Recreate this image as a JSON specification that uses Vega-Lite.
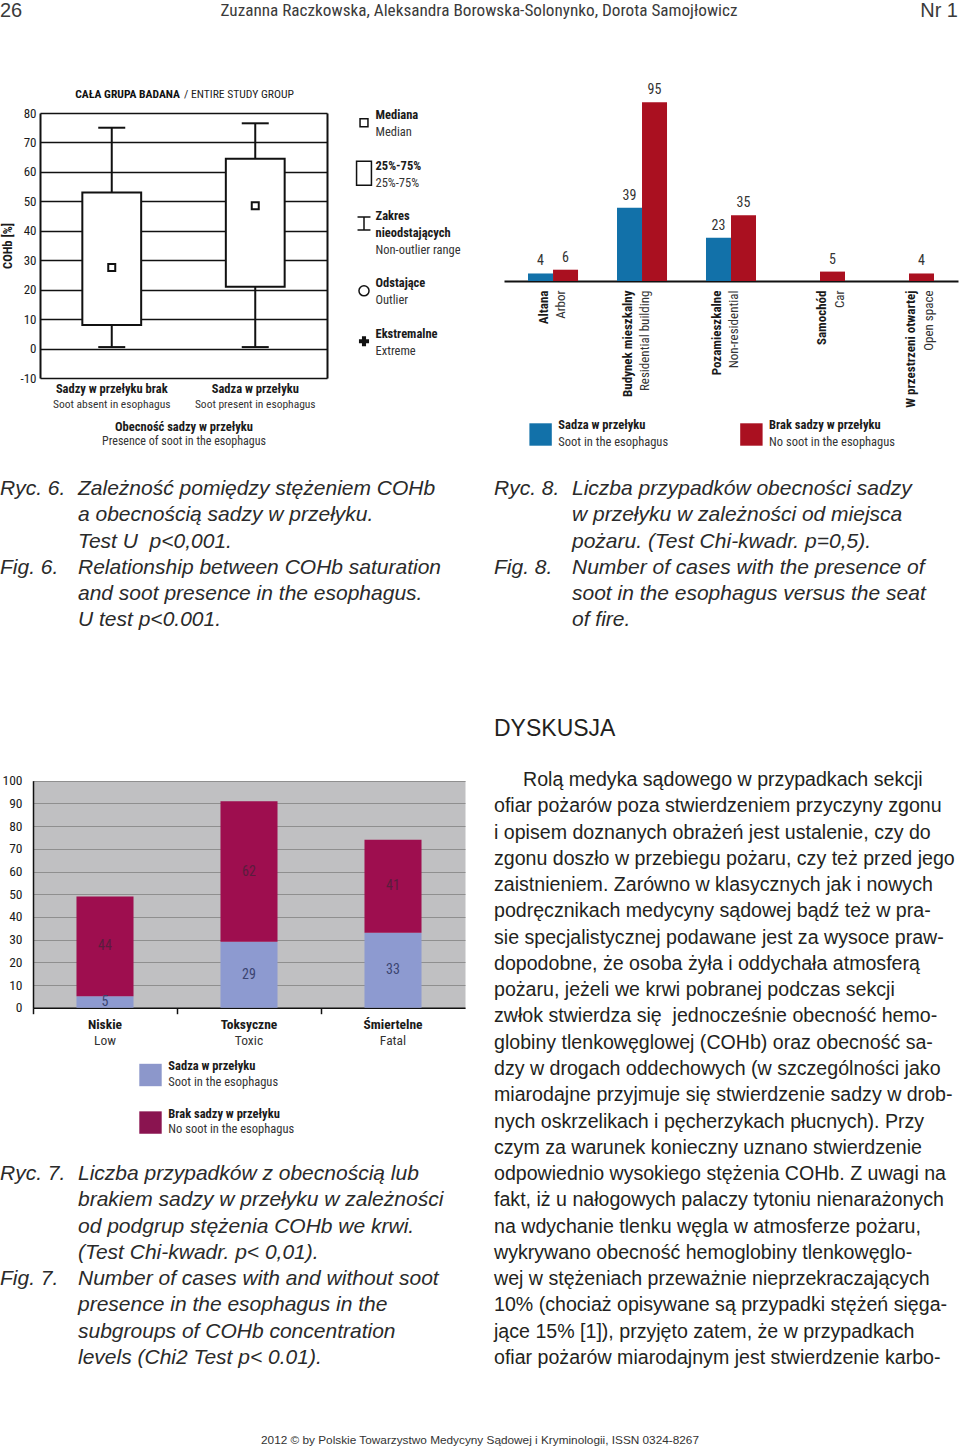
{
"$schema":"https://vega.github.io/schema/vega-lite/v6.json",
"width":960,"height":1450,
"padding":0,
"autosize":{"type":"none"},
"background":"white",
"config":{
 "view":{"stroke":null},
 "font":"Liberation Sans, Arial, sans-serif",
 "axis":{"labelFont":"Roboto Condensed, Roboto, sans-serif","titleFont":"Roboto Condensed, Roboto, sans-serif","labelColor":"#1a1a1a","titleColor":"#1a1a1a","labelFontSize":12.5,"titleFontSize":12.5,"labelOverlap":false,"labelLimit":400,"minExtent":0}
},
"resolve":{"scale":{"x":"independent","y":"independent","color":"independent","shape":"independent"},"axis":{"x":"independent","y":"independent"}},
"layer":[
{"data":{"values":[{"slot":"l","line":0,"text":"26"},{"slot":"c","line":0,"text":"Zuzanna Raczkowska, Aleksandra Borowska-Solonynko, Dorota Samojłowicz"},{"slot":"r","line":0,"text":"Nr 1"}]},
 "encoding":{
  "x":{"field":"slot","type":"nominal","scale":{"type":"point","domain":["l","c","r"],"range":[0,958],"padding":0},"axis":null},
  "y":{"field":"line","type":"quantitative","scale":{"domain":[0,1],"range":[17,43],"nice":false,"zero":false},"axis":null},
  "text":{"field":"text"}},
 "layer":[
  {"transform":[{"filter":"datum.slot=='l'"}],"mark":{"type":"text","align":"left","baseline":"alphabetic","fontSize":20,"color":"#3a3a3a"}},
  {"transform":[{"filter":"datum.slot=='c'"}],"mark":{"type":"text","align":"center","baseline":"alphabetic","dy":-1,"font":"Roboto Condensed, Roboto, sans-serif","fontSize":17.2,"color":"#3a3a3a"}},
  {"transform":[{"filter":"datum.slot=='r'"}],"mark":{"type":"text","align":"right","baseline":"alphabetic","fontSize":20,"color":"#3a3a3a"}}
 ]},

{"data":{"values":[
  {"g":"Sadzy w przełyku brak","lo":0.5,"q1":8,"med":27.5,"q3":53,"hi":75},
  {"g":"Sadza w przełyku","lo":0.5,"q1":21,"med":48.5,"q3":64.5,"hi":76.5}]},
 "layer":[
  {"mark":{"type":"rule","color":"#111","strokeWidth":2},
   "encoding":{
    "x":{"field":"g","type":"nominal","sort":null,"scale":{"domain":["Sadzy w przełyku brak","Sadza w przełyku"],"range":[40,327],"paddingInner":0,"paddingOuter":0},
         "axis":{"orient":"bottom","offset":-1072,"title":"Obecność sadzy w przełyku","labelAngle":0,"labelFontWeight":"bold","titleFontWeight":"bold","domain":false,"ticks":false,"tickSize":0,"grid":false,"labelPadding":4,"titlePadding":26}},
    "y":{"field":"lo","type":"quantitative","scale":{"domain":[-10,80],"range":[378,113],"nice":false,"zero":false},
         "axis":{"orient":"left","offset":-40,"title":"COHb [%]","titleFontWeight":"bold","values":[-10,0,10,20,30,40,50,60,70,80],"labelExpr":"datum.value","labelFontSize":13,"grid":true,"gridColor":"#111","gridWidth":1.5,"domain":true,"domainColor":"#111","domainWidth":2,"ticks":false,"tickSize":0,"labelPadding":4,"titlePadding":5}},
    "y2":{"field":"hi"}}},
  {"mark":{"type":"tick","color":"#111","size":27,"thickness":2,"opacity":1},
   "encoding":{
    "x":{"field":"g","type":"nominal","sort":null,"scale":{"domain":["Sadzy w przełyku brak","Sadza w przełyku"],"range":[40,327],"paddingInner":0,"paddingOuter":0},"axis":null},
    "y":{"field":"lo","type":"quantitative","scale":{"domain":[-10,80],"range":[378,113],"nice":false,"zero":false},"axis":null}}},
  {"mark":{"type":"tick","color":"#111","size":27,"thickness":2,"opacity":1},
   "encoding":{
    "x":{"field":"g","type":"nominal","sort":null,"scale":{"domain":["Sadzy w przełyku brak","Sadza w przełyku"],"range":[40,327],"paddingInner":0,"paddingOuter":0},"axis":null},
    "y":{"field":"hi","type":"quantitative","scale":{"domain":[-10,80],"range":[378,113],"nice":false,"zero":false},"axis":null}}},
  {"mark":{"type":"bar","fill":"white","stroke":"#111","strokeWidth":2,"opacity":1,"width":{"band":0.41}},
   "encoding":{
    "x":{"field":"g","type":"nominal","sort":null,"scale":{"domain":["Sadzy w przełyku brak","Sadza w przełyku"],"range":[40,327],"paddingInner":0,"paddingOuter":0},
         "axis":{"orient":"bottom","offset":-1072,"title":"Presence of soot in the esophagus","labelAngle":0,"labelExpr":"datum.value == 'Sadza w przełyku' ? 'Soot present in esophagus' : 'Soot absent in esophagus'","labelFontSize":11.5,"titleFontSize":12,"titleFontWeight":"normal","labelFontWeight":"normal","labelColor":"#333","titleColor":"#333","domain":false,"ticks":false,"tickSize":0,"grid":false,"labelPadding":20,"titlePadding":26}},
    "y":{"field":"q1","type":"quantitative","scale":{"domain":[-10,80],"range":[378,113],"nice":false,"zero":false},"axis":null},
    "y2":{"field":"q3"}}},
  {"mark":{"type":"point","shape":"square","size":49,"filled":true,"fill":"white","stroke":"#111","strokeWidth":2,"opacity":1},
   "encoding":{
    "x":{"field":"g","type":"nominal","sort":null,"scale":{"domain":["Sadzy w przełyku brak","Sadza w przełyku"],"range":[40,327],"paddingInner":0,"paddingOuter":0},"axis":null},
    "y":{"field":"med","type":"quantitative","scale":{"domain":[-10,80],"range":[378,113],"nice":false,"zero":false},
         "axis":{"orient":"right","offset":-633,"title":null,"labels":false,"grid":false,"domain":true,"domainColor":"#111","domainWidth":2,"ticks":false,"tickSize":0}}}}
 ],
 "resolve":{"axis":{"x":"independent","y":"independent"}}},

{"data":{"values":[{"part":"pl","line":0,"text":"CAŁA GRUPA BADANA"},{"part":"en","line":0,"text":"/ ENTIRE STUDY GROUP"}]},
 "encoding":{
  "x":{"field":"part","type":"nominal","scale":{"type":"point","domain":["pl","en"],"range":[180,184],"padding":0},"axis":null},
  "y":{"field":"line","type":"quantitative","scale":{"domain":[0,1],"range":[97.5,114],"nice":false,"zero":false},"axis":null},
  "text":{"field":"text"}},
 "layer":[
  {"transform":[{"filter":"datum.part=='pl'"}],"mark":{"type":"text","align":"right","baseline":"alphabetic","font":"Roboto Condensed, Roboto, sans-serif","fontSize":11.6,"fontWeight":"bold","color":"#111"}},
  {"transform":[{"filter":"datum.part=='en'"}],"mark":{"type":"text","align":"left","baseline":"alphabetic","font":"Roboto Condensed, Roboto, sans-serif","fontSize":11.6,"color":"#222"}}
 ]},

{"data":{"values":[
  {"col":"sym","sym":"median","line":0},
  {"col":"sym","sym":"box","line":3},
  {"col":"sym","sym":"range","line":6},
  {"col":"sym","sym":"outlier","line":10},
  {"col":"sym","sym":"extreme","line":13},
  {"col":"text","kind":"b","line":0,"text":"Mediana"},
  {"col":"text","kind":"n","line":1,"text":"Median"},
  {"col":"text","kind":"b","line":3,"text":"25%-75%"},
  {"col":"text","kind":"n","line":4,"text":"25%-75%"},
  {"col":"text","kind":"b","line":6,"text":"Zakres"},
  {"col":"text","kind":"b","line":7,"text":"nieodstających"},
  {"col":"text","kind":"n","line":8,"text":"Non-outlier range"},
  {"col":"text","kind":"b","line":10,"text":"Odstające"},
  {"col":"text","kind":"n","line":11,"text":"Outlier"},
  {"col":"text","kind":"b","line":13,"text":"Ekstremalne"},
  {"col":"text","kind":"n","line":14,"text":"Extreme"}]},
 "encoding":{
  "x":{"field":"col","type":"nominal","scale":{"type":"point","domain":["sym","text"],"range":[364,375.5],"padding":0},"axis":null},
  "y":{"field":"line","type":"quantitative","scale":{"domain":[0,1],"range":[119.3,136.1],"nice":false,"zero":false},"axis":null}},
 "layer":[
  {"transform":[{"filter":"datum.col=='sym' && datum.sym!='extreme'"}],
   "mark":{"type":"point","filled":false,"stroke":"#111","strokeWidth":1.5,"size":576,"opacity":1,"yOffset":3.5},
   "encoding":{"shape":{"field":"sym","type":"nominal","scale":{"domain":["median","box","range","outlier"],"range":["M-0.33,-0.33H0.33V0.33H-0.33Z","M-0.62,-1H0.62V1H-0.62Z","M-0.54,-0.54H0.54M0,-0.54V0.54M-0.54,0.54H0.54","M0.42,0A0.42,0.42,0,1,1,-0.42,0A0.42,0.42,0,1,1,0.42,0Z"]},"legend":null}}},
  {"transform":[{"filter":"datum.sym=='extreme'"}],
   "mark":{"type":"point","filled":true,"color":"#111","size":576,"opacity":1,"yOffset":3.5,"shape":"M-0.17,-0.42H0.17V-0.17H0.42V0.17H0.17V0.42H-0.17V0.17H-0.42V-0.17H-0.17Z"}},
  {"transform":[{"filter":"datum.kind=='b'"}],"mark":{"type":"text","align":"left","baseline":"alphabetic","font":"Roboto Condensed, Roboto, sans-serif","fontSize":12.5,"fontWeight":"bold","color":"#1a1a1a"},"encoding":{"text":{"field":"text"}}},
  {"transform":[{"filter":"datum.kind=='n'"}],"mark":{"type":"text","align":"left","baseline":"alphabetic","font":"Roboto Condensed, Roboto, sans-serif","fontSize":12.5,"color":"#333"},"encoding":{"text":{"field":"text"}}}
 ]},

{"data":{"values":[
  {"place":"Altana","series":"soot","n":4},{"place":"Altana","series":"nosoot","n":6},
  {"place":"Budynek mieszkalny","series":"soot","n":39},{"place":"Budynek mieszkalny","series":"nosoot","n":95},
  {"place":"Pozamieszkalne","series":"soot","n":23},{"place":"Pozamieszkalne","series":"nosoot","n":35},
  {"place":"Samochód","series":"nosoot","n":5},
  {"place":"W przestrzeni otwartej","series":"nosoot","n":4}]},
 "layer":[
  {"mark":{"type":"bar","opacity":1},
   "encoding":{
    "x":{"field":"place","type":"nominal","sort":null,"scale":{"domain":["Altana","Budynek mieszkalny","Pozamieszkalne","Samochód","W przestrzeni otwartej"],"range":[504,958],"paddingInner":0.438,"paddingOuter":0.27},
         "axis":{"orient":"bottom","offset":-1169,"title":null,"labelAngle":270,"labelFontWeight":"bold","labelFontSize":13,"labelPadding":9,
                 "labelOffset":{"condition":[{"test":"datum.value=='Samochód'||datum.value=='W przestrzeni otwartej'","value":2},{"test":"datum.value=='Altana'","value":-9}],"value":-14},
                 "domain":true,"domainColor":"#111","domainWidth":2,"ticks":false,"tickSize":0,"grid":false}},
    "xOffset":{"field":"series","type":"nominal","scale":{"domain":["soot","nosoot"],"paddingInner":0,"paddingOuter":0}},
    "y":{"field":"n","type":"quantitative","scale":{"domain":[0,95],"range":[281,102.3],"nice":false,"zero":false},"axis":null},
    "color":{"field":"series","type":"nominal","scale":{"domain":["soot","nosoot"],"range":["#1271a9","#aa1020"]},"legend":null}}},
  {"mark":{"type":"text","baseline":"bottom","dy":-5,"font":"Roboto Condensed, Roboto, sans-serif","fontSize":14,"color":"#333"},
   "encoding":{
    "x":{"field":"place","type":"nominal","sort":null,"scale":{"domain":["Altana","Budynek mieszkalny","Pozamieszkalne","Samochód","W przestrzeni otwartej"],"range":[504,958],"paddingInner":0.438,"paddingOuter":0.27},
         "axis":{"orient":"bottom","offset":-1169,"title":null,"labelAngle":270,"labelFontSize":13,"labelColor":"#333","labelPadding":9,
                 "labelOffset":{"condition":[{"test":"datum.value=='Samochód'||datum.value=='W przestrzeni otwartej'","value":20},{"test":"datum.value=='Altana'","value":8}],"value":3},
                 "labelExpr":"datum.value=='Altana'?'Arbor':datum.value=='Budynek mieszkalny'?'Residential building':datum.value=='Pozamieszkalne'?'Non-residential':datum.value=='Samochód'?'Car':'Open space'",
                 "domain":false,"ticks":false,"tickSize":0,"grid":false}},
    "xOffset":{"field":"series","type":"nominal","scale":{"domain":["soot","nosoot"],"paddingInner":0,"paddingOuter":0}},
    "y":{"field":"n","type":"quantitative","scale":{"domain":[0,95],"range":[281,102.3],"nice":false,"zero":false},"axis":null},
    "text":{"field":"n","type":"quantitative"}}}
 ],
 "resolve":{"axis":{"x":"independent"}}},

{"data":{"values":[
  {"kind":"sw","item":"soot","line":0},{"kind":"sw","item":"nosoot","line":0},
  {"kind":"b","item":"soot","line":0,"text":"Sadza w przełyku"},
  {"kind":"n","item":"soot","line":1,"text":"Soot in the esophagus"},
  {"kind":"b","item":"nosoot","line":0,"text":"Brak sadzy w przełyku"},
  {"kind":"n","item":"nosoot","line":1,"text":"No soot in the esophagus"}]},
 "encoding":{
  "x":{"field":"item","type":"nominal","scale":{"type":"point","domain":["soot","nosoot"],"range":[540.6,751.4],"padding":0},"axis":null},
  "y":{"field":"line","type":"quantitative","scale":{"domain":[0,1],"range":[429.3,445.5],"nice":false,"zero":false},"axis":null}},
 "layer":[
  {"transform":[{"filter":"datum.kind=='sw' && datum.item=='soot'"}],"mark":{"type":"point","shape":"square","size":502,"filled":true,"color":"#1271a9","opacity":1,"yOffset":5.2}},
  {"transform":[{"filter":"datum.kind=='sw' && datum.item=='nosoot'"}],"mark":{"type":"point","shape":"square","size":502,"filled":true,"color":"#aa1020","opacity":1,"yOffset":5.2}},
  {"transform":[{"filter":"datum.kind=='b'"}],"mark":{"type":"text","align":"left","baseline":"alphabetic","dx":17.7,"font":"Roboto Condensed, Roboto, sans-serif","fontSize":12.5,"fontWeight":"bold","color":"#1a1a1a"},"encoding":{"text":{"field":"text"}}},
  {"transform":[{"filter":"datum.kind=='n'"}],"mark":{"type":"text","align":"left","baseline":"alphabetic","dx":17.7,"font":"Roboto Condensed, Roboto, sans-serif","fontSize":12.5,"color":"#333"},"encoding":{"text":{"field":"text"}}}
 ]},

{"data":{"values":[
  {"col":"lab","line":0,"text":"Ryc. 6."},
  {"col":"body","line":0,"text":"Zależność pomiędzy stężeniem COHb"},
  {"col":"body","line":1,"text":"a obecnością sadzy w przełyku."},
  {"col":"body","line":2,"text":"Test U\u00a0\u00a0p<0,001."},
  {"col":"lab","line":3,"text":"Fig. 6."},
  {"col":"body","line":3,"text":"Relationship between COHb saturation"},
  {"col":"body","line":4,"text":"and soot presence in the esophagus."},
  {"col":"body","line":5,"text":"U test p<0.001."}]},
 "mark":{"type":"text","align":"left","baseline":"alphabetic","fontSize":21,"fontStyle":"italic","color":"#2a2a2a"},
 "encoding":{
  "x":{"field":"col","type":"nominal","scale":{"type":"point","domain":["lab","body"],"range":[0,78],"padding":0},"axis":null},
  "y":{"field":"line","type":"quantitative","scale":{"domain":[0,1],"range":[495,521.27],"nice":false,"zero":false},"axis":null},
  "text":{"field":"text"}}},

{"data":{"values":[
  {"col":"lab","line":0,"text":"Ryc. 8."},
  {"col":"body","line":0,"text":"Liczba przypadków obecności sadzy"},
  {"col":"body","line":1,"text":"w przełyku w zależności od miejsca"},
  {"col":"body","line":2,"text":"pożaru. (Test Chi-kwadr. p=0,5)."},
  {"col":"lab","line":3,"text":"Fig. 8."},
  {"col":"body","line":3,"text":"Number of cases with the presence of"},
  {"col":"body","line":4,"text":"soot in the esophagus versus the seat"},
  {"col":"body","line":5,"text":"of fire."}]},
 "mark":{"type":"text","align":"left","baseline":"alphabetic","fontSize":21,"fontStyle":"italic","color":"#2a2a2a"},
 "encoding":{
  "x":{"field":"col","type":"nominal","scale":{"type":"point","domain":["lab","body"],"range":[494,572],"padding":0},"axis":null},
  "y":{"field":"line","type":"quantitative","scale":{"domain":[0,1],"range":[495,521.27],"nice":false,"zero":false},"axis":null},
  "text":{"field":"text"}}},

{"data":{"values":[
  {"kind":"h","col":"main","line":-2,"text":"DYSKUSJA"},
  {"kind":"p","col":"indent","line":0,"text":"Rolą medyka sądowego w przypadkach sekcji"},
  {"kind":"p","col":"main","line":1,"text":"ofiar pożarów poza stwierdzeniem przyczyny zgonu"},
  {"kind":"p","col":"main","line":2,"text":"i opisem doznanych obrażeń jest ustalenie, czy do"},
  {"kind":"p","col":"main","line":3,"text":"zgonu doszło w przebiegu pożaru, czy też przed jego"},
  {"kind":"p","col":"main","line":4,"text":"zaistnieniem. Zarówno w klasycznych jak i nowych"},
  {"kind":"p","col":"main","line":5,"text":"podręcznikach medycyny sądowej bądź też w pra-"},
  {"kind":"p","col":"main","line":6,"text":"sie specjalistycznej podawane jest za wysoce praw-"},
  {"kind":"p","col":"main","line":7,"text":"dopodobne, że osoba żyła i oddychała atmosferą"},
  {"kind":"p","col":"main","line":8,"text":"pożaru, jeżeli we krwi pobranej podczas sekcji"},
  {"kind":"p","col":"main","line":9,"text":"zwłok stwierdza się\u00a0 jednocześnie obecność hemo-"},
  {"kind":"p","col":"main","line":10,"text":"globiny tlenkowęglowej (COHb) oraz obecność sa-"},
  {"kind":"p","col":"main","line":11,"text":"dzy w drogach oddechowych (w szczególności jako"},
  {"kind":"p","col":"main","line":12,"text":"miarodajne przyjmuje się stwierdzenie sadzy w drob-"},
  {"kind":"p","col":"main","line":13,"text":"nych oskrzelikach i pęcherzykach płucnych). Przy"},
  {"kind":"p","col":"main","line":14,"text":"czym za warunek konieczny uznano stwierdzenie"},
  {"kind":"p","col":"main","line":15,"text":"odpowiednio wysokiego stężenia COHb. Z uwagi na"},
  {"kind":"p","col":"main","line":16,"text":"fakt, iż u nałogowych palaczy tytoniu nienarażonych"},
  {"kind":"p","col":"main","line":17,"text":"na wdychanie tlenku węgla w atmosferze pożaru,"},
  {"kind":"p","col":"main","line":18,"text":"wykrywano obecność hemoglobiny tlenkowęglo-"},
  {"kind":"p","col":"main","line":19,"text":"wej w stężeniach przeważnie nieprzekraczających"},
  {"kind":"p","col":"main","line":20,"text":"10% (chociaż opisywane są przypadki stężeń sięga-"},
  {"kind":"p","col":"main","line":21,"text":"jące 15% [1]), przyjęto zatem, że w przypadkach"},
  {"kind":"p","col":"main","line":22,"text":"ofiar pożarów miarodajnym jest stwierdzenie karbo-"}]},
 "encoding":{
  "x":{"field":"col","type":"nominal","scale":{"type":"point","domain":["main","indent"],"range":[494,523],"padding":0},"axis":null},
  "y":{"field":"line","type":"quantitative","scale":{"domain":[0,1],"range":[786,812.27],"nice":false,"zero":false},"axis":null},
  "text":{"field":"text"}},
 "layer":[
  {"transform":[{"filter":"datum.kind=='h'"}],"mark":{"type":"text","align":"left","baseline":"alphabetic","dy":3,"fontSize":23,"color":"#231f20"}},
  {"transform":[{"filter":"datum.kind=='p'"}],"mark":{"type":"text","align":"left","baseline":"alphabetic","fontSize":19.6,"color":"#231f20"}}
 ]},

{"data":{"values":[
  {"lvl":"Niskie","series":"sadza","n":5},{"lvl":"Niskie","series":"brak","n":44},
  {"lvl":"Toksyczne","series":"sadza","n":29},{"lvl":"Toksyczne","series":"brak","n":62},
  {"lvl":"Śmiertelne","series":"sadza","n":33},{"lvl":"Śmiertelne","series":"brak","n":41}]},
 "layer":[
  {"mark":{"type":"bar","opacity":1,"width":{"band":0.396}},
   "encoding":{
    "x":{"field":"lvl","type":"nominal","sort":null,"scale":{"domain":["Niskie","Toksyczne","Śmiertelne"],"range":[33,465],"paddingInner":0,"paddingOuter":0},
         "axis":{"orient":"bottom","offset":-442.3,"title":null,"labels":false,"bandPosition":0,"ticks":true,"tickSize":6,"tickColor":"#111","tickWidth":1.5,"domain":true,"domainColor":"#111","domainWidth":1.5,"grid":false}},
    "y":{"field":"n","type":"quantitative","stack":"zero","scale":{"domain":[0,100],"range":[1007.7,780.7],"nice":false,"zero":false},
         "axis":{"orient":"left","offset":-33,"title":null,"values":[50],"grid":true,"gridColor":"#c0c0c2","gridWidth":227,"gridCap":"butt","labels":false,"domain":false,"ticks":false,"tickSize":0}},
    "color":{"field":"series","type":"nominal","scale":{"domain":["sadza","brak"],"range":["#8d9ad0","#9e0e4f"]},"legend":null},
    "order":{"field":"series","sort":"descending"}}},
  {"transform":[
    {"stack":"n","groupby":["lvl"],"sort":[{"field":"series","order":"descending"}],"as":["n0","n1"]},
    {"fold":["n0","n1"],"as":["edge","pos"]},
    {"aggregate":[{"op":"mean","field":"pos","as":"mid"}],"groupby":["lvl","series","n"]},
    {"filter":"datum.series=='brak'"}],
   "mark":{"type":"text","baseline":"middle","font":"Roboto Condensed, Roboto, sans-serif","fontSize":14,"color":"#5a1d3d"},
   "encoding":{
    "x":{"field":"lvl","type":"nominal","sort":null,"scale":{"domain":["Niskie","Toksyczne","Śmiertelne"],"range":[33,465],"paddingInner":0,"paddingOuter":0},
         "axis":{"orient":"bottom","offset":-442.3,"title":null,"labelAngle":0,"labelFontWeight":"bold","labelFontSize":13.5,"labelPadding":10,"domain":false,"ticks":false,"tickSize":0,"grid":false}},
    "y":{"field":"mid","type":"quantitative","scale":{"domain":[0,100],"range":[1007.7,780.7],"nice":false,"zero":false},
         "axis":{"orient":"left","offset":-33,"title":null,"values":[0,10,20,30,40,50,60,70,80,90,100],"grid":true,"gridColor":"#8f8f8f","gridWidth":1,"labels":false,"domain":false,"ticks":false,"tickSize":0}},
    "text":{"field":"n","type":"quantitative"}}},
  {"transform":[
    {"stack":"n","groupby":["lvl"],"sort":[{"field":"series","order":"descending"}],"as":["n0","n1"]},
    {"fold":["n0","n1"],"as":["edge","pos"]},
    {"aggregate":[{"op":"mean","field":"pos","as":"mid"}],"groupby":["lvl","series","n"]},
    {"filter":"datum.series=='sadza'"}],
   "mark":{"type":"text","baseline":"middle","font":"Roboto Condensed, Roboto, sans-serif","fontSize":14,"color":"#3b4470"},
   "encoding":{
    "x":{"field":"lvl","type":"nominal","sort":null,"scale":{"domain":["Niskie","Toksyczne","Śmiertelne"],"range":[33,465],"paddingInner":0,"paddingOuter":0},
         "axis":{"orient":"bottom","offset":-442.3,"title":null,"labelAngle":0,"labelFontSize":13.5,"labelColor":"#333","labelPadding":26,"labelExpr":"datum.value=='Niskie'?'Low':datum.value=='Toksyczne'?'Toxic':'Fatal'","domain":false,"ticks":false,"tickSize":0,"grid":false}},
    "y":{"field":"mid","type":"quantitative","scale":{"domain":[0,100],"range":[1007.7,780.7],"nice":false,"zero":false},
         "axis":{"orient":"left","offset":-33,"title":null,"values":[0,10,20,30,40,50,60,70,80,90,100],"grid":false,"domain":true,"domainColor":"#111","domainWidth":1.5,"ticks":false,"tickSize":0,"labelPadding":11,"labelFontSize":13.5}},
    "text":{"field":"n","type":"quantitative"}}}
 ],
 "resolve":{"axis":{"x":"independent","y":"independent"}}},

{"data":{"values":[
  {"col":"sw","kind":"sw1","line":0},{"col":"sw","kind":"sw2","line":3},
  {"col":"txt","kind":"b","line":0,"text":"Sadza w przełyku"},
  {"col":"txt","kind":"n","line":1,"text":"Soot in the esophagus"},
  {"col":"txt","kind":"b","line":3,"text":"Brak sadzy w przełyku"},
  {"col":"txt","kind":"n","line":4,"text":"No soot in the esophagus"}]},
 "encoding":{
  "x":{"field":"col","type":"nominal","scale":{"type":"point","domain":["sw","txt"],"range":[150.5,168.3],"padding":0},"axis":null},
  "y":{"field":"line","type":"quantitative","scale":{"domain":[0,1],"range":[1070,1085.85],"nice":false,"zero":false},"axis":null}},
 "layer":[
  {"transform":[{"filter":"datum.kind=='sw1'"}],"mark":{"type":"point","shape":"square","size":502,"filled":true,"color":"#8c97cb","opacity":1,"yOffset":5}},
  {"transform":[{"filter":"datum.kind=='sw2'"}],"mark":{"type":"point","shape":"square","size":502,"filled":true,"color":"#8a1450","opacity":1,"yOffset":5}},
  {"transform":[{"filter":"datum.kind=='b'"}],"mark":{"type":"text","align":"left","baseline":"alphabetic","font":"Roboto Condensed, Roboto, sans-serif","fontSize":12.5,"fontWeight":"bold","color":"#1a1a1a"},"encoding":{"text":{"field":"text"}}},
  {"transform":[{"filter":"datum.kind=='n'"}],"mark":{"type":"text","align":"left","baseline":"alphabetic","font":"Roboto Condensed, Roboto, sans-serif","fontSize":12.5,"color":"#333"},"encoding":{"text":{"field":"text"}}}
 ]},

{"data":{"values":[
  {"col":"lab","line":0,"text":"Ryc. 7."},
  {"col":"body","line":0,"text":"Liczba przypadków z obecnością lub"},
  {"col":"body","line":1,"text":"brakiem sadzy w przełyku w zależności"},
  {"col":"body","line":2,"text":"od podgrup stężenia COHb we krwi."},
  {"col":"body","line":3,"text":"(Test Chi-kwadr. p< 0,01)."},
  {"col":"lab","line":4,"text":"Fig. 7."},
  {"col":"body","line":4,"text":"Number of cases with and without soot"},
  {"col":"body","line":5,"text":"presence in the esophagus in the"},
  {"col":"body","line":6,"text":"subgroups of COHb concentration"},
  {"col":"body","line":7,"text":"levels (Chi2 Test p< 0.01)."}]},
 "mark":{"type":"text","align":"left","baseline":"alphabetic","fontSize":21,"fontStyle":"italic","color":"#2a2a2a"},
 "encoding":{
  "x":{"field":"col","type":"nominal","scale":{"type":"point","domain":["lab","body"],"range":[0,78],"padding":0},"axis":null},
  "y":{"field":"line","type":"quantitative","scale":{"domain":[0,1],"range":[1180,1206.27],"nice":false,"zero":false},"axis":null},
  "text":{"field":"text"}}},

{"data":{"values":[{"line":0,"text":"2012 © by Polskie Towarzystwo Medycyny Sądowej i Kryminologii, ISSN 0324-8267"}]},
 "mark":{"type":"text","align":"center","baseline":"alphabetic","fontSize":11.8,"color":"#333"},
 "encoding":{
  "y":{"field":"line","type":"quantitative","scale":{"domain":[0,1],"range":[1444.3,1460],"nice":false,"zero":false},"axis":null},
  "text":{"field":"text"}}}
]
}
